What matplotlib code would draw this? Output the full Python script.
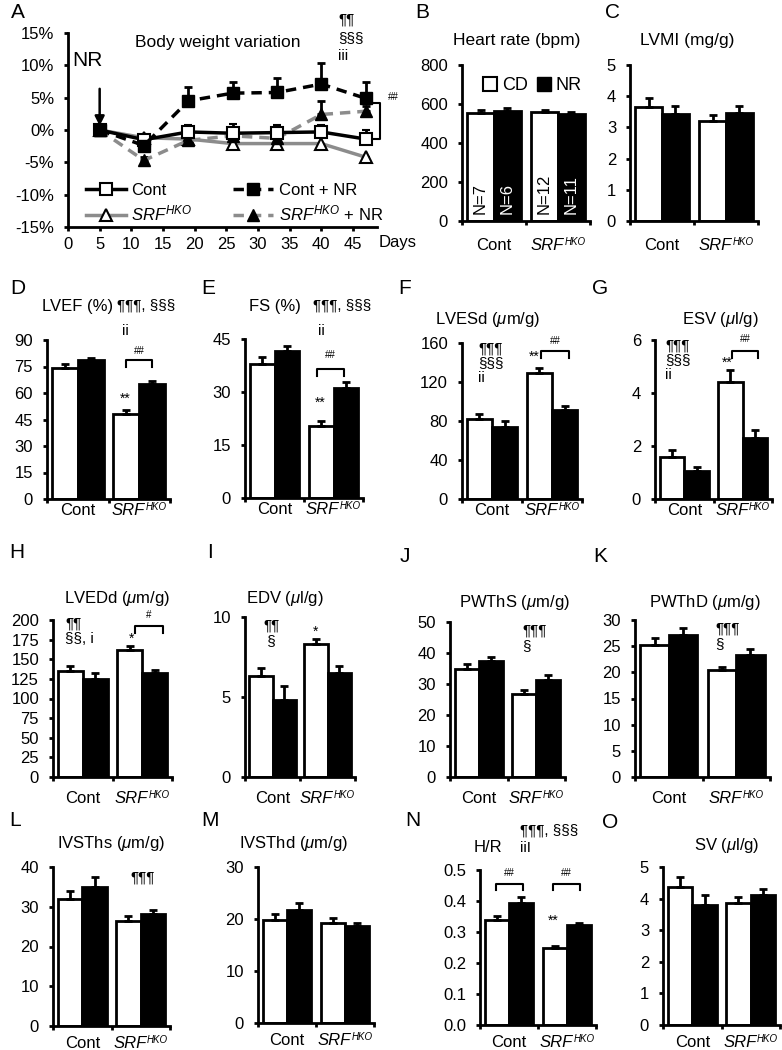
"""Echo / body weight panels for Cont vs SRF-HKO mice, CD vs NR diet"""

import numpy as np
import matplotlib
matplotlib.use('Agg')
import matplotlib.pyplot as plt
from matplotlib.lines import Line2D
from matplotlib.patches import Patch
from matplotlib.font_manager import FontProperties
from matplotlib.textpath import TextToPath

plt.rcParams['font.family'] = ['Liberation Sans', 'DejaVu Sans']
plt.rcParams['mathtext.fontset'] = 'custom'
plt.rcParams['mathtext.rm'] = 'Liberation Sans'
plt.rcParams['mathtext.it'] = 'Liberation Sans:italic'
plt.rcParams['axes.unicode_minus'] = False

W, H = 782, 1050
GREY = '#8c8c8c'

# body weight variation (%), panel A
days = [5, 12, 19, 26, 33, 40, 47]
bw_cont = [0, -1.5, -0.3, -0.5, -0.4, -0.3, -1.4]
bw_cont_err = [0.3, 0.5, 1.1, 1.5, 1.1, 1.0, 1.4]
bw_srf = [0, -1.2, -1.4, -2.1, -2.1, -2.1, -4.2]
bw_srf_err = [0.3, 0.5, 0.6, 0.6, 0.6, 0.6, 0.8]
bw_cont_nr = [0, -2.4, 4.5, 5.7, 5.8, 7.1, 4.9]
bw_cont_nr_err = [0.3, 0.8, 2.1, 1.7, 2.2, 3.3, 2.5]
bw_srf_nr = [0, -4.7, -1.6, -0.9, -1.3, 2.4, 2.9]
bw_srf_nr_err = [0.3, 0.6, 0.6, 0.8, 0.6, 2.1, 0.8]

# bar values: [Cont CD, Cont NR, SRF CD, SRF NR]
hr = [555, 565, 560, 548]
hr_err = [12, 15, 8, 12]
hr_n = ['N=7', 'N=6', 'N=12', 'N=11']
lvmi = [3.65, 3.42, 3.22, 3.47]
lvmi_err = [0.28, 0.28, 0.18, 0.2]
lvef = [74, 78.5, 48, 65]
lvef_err = [2.5, 1.5, 2.5, 2]
fs = [38, 41.5, 20.5, 31]
fs_err = [2, 1.5, 1.2, 1.7]
lvesd = [82, 74, 129, 91]
lvesd_err = [5, 6, 5, 4]
esv = [1.6, 1.05, 4.4, 2.3]
esv_err = [0.25, 0.15, 0.45, 0.3]
lvedd = [135, 125, 162, 132]
lvedd_err = [6, 8, 5, 4]
edv = [6.3, 4.8, 8.3, 6.5]
edv_err = [0.5, 0.9, 0.35, 0.45]
pwths = [35, 37.3, 26.7, 31.2]
pwths_err = [1.3, 1.5, 1.3, 1.7]
pwthd = [25.3, 27.2, 20.4, 23.3]
pwthd_err = [1.3, 1.2, 0.6, 1.2]
ivsths = [32, 35, 26.5, 28.3]
ivsths_err = [2, 2.5, 1.2, 0.8]
ivsthd = [19.8, 21.8, 19.2, 18.7]
ivsthd_err = [1.2, 1.2, 1.0, 0.6]
hrr = [0.34, 0.395, 0.25, 0.322]
hrr_err = [0.012, 0.018, 0.006, 0.008]
sv = [4.38, 3.8, 3.85, 4.1]
sv_err = [0.3, 0.32, 0.2, 0.2]

fig = plt.figure(figsize=(W / 100, H / 100), dpi=100)
ttp = TextToPath()
LABEL_FS, SUP_FS = 12, 7


def text_width(s, size, style='normal'):
  fp = FontProperties(family='Liberation Sans', style=style, size=size)
  w, _, _ = ttp.get_text_width_height_descent(s, fp, ismath=False)
  return w


def px_axes(x0, y0, x1, y1):
  # y0 = pixel row of the top of the axis, y1 = pixel row of the bottom
  return fig.add_axes([x0 / W, 1 - y1 / H, (x1 - x0) / W, (y1 - y0) / H])


def ftext(x, y, s, **kw):
  kw.setdefault('fontsize', 12)
  return fig.text(x / W, 1 - y / H, s, **kw)


def style_axes(ax):
  for side in ['top', 'right']:
    ax.spines[side].set_visible(False)
  for side in ['left', 'bottom']:
    ax.spines[side].set_linewidth(2)
  ax.tick_params(which='major', direction='out', width=2, length=3, labelsize=12, pad=7)


def group_labels(ax, centers, off_px):
  off = off_px / 1.389
  ax.annotate('Cont', xy=(centers[0], 0), xytext=(0, -off), textcoords='offset points',
              ha='center', va='baseline', fontsize=LABEL_FS, annotation_clip=False)
  w1 = text_width('SRF', LABEL_FS, 'italic')
  w2 = text_width('HKO', SUP_FS, 'italic')
  start = -(w1 + w2 + 0.4) / 2
  ax.annotate('SRF', xy=(centers[1], 0), xytext=(start, -off), textcoords='offset points',
              ha='left', va='baseline', fontsize=LABEL_FS, style='italic', annotation_clip=False)
  ax.annotate('HKO', xy=(centers[1], 0), xytext=(start + w1 + 0.4, -off + 0.716 * (LABEL_FS - SUP_FS)),
              textcoords='offset points', ha='left', va='baseline', fontsize=SUP_FS,
              style='italic', annotation_clip=False)


def bar_panel(box, vals, errs, ymax, step, label_off, fmt='{:g}'):
  ax = px_axes(*box)
  style_axes(ax)
  centers = np.array([0.5, 1.5])
  cd = [vals[0], vals[2]]
  nr = [vals[1], vals[3]]
  ekw = dict(ecolor='black', elinewidth=2, capsize=3, capthick=2)
  ax.bar(centers - 0.21, cd, 0.42, color='white', edgecolor='black', linewidth=2,
         yerr=[[0, 0], [errs[0], errs[2]]], error_kw=ekw, zorder=2)
  ax.bar(centers + 0.21, nr, 0.42, color='black', edgecolor='black', linewidth=2,
         yerr=[[0, 0], [errs[1], errs[3]]], error_kw=ekw, zorder=2)
  ax.set_xlim(0, 2)
  ax.set_ylim(0, ymax)
  ticks = np.arange(0, ymax + step / 2, step)
  ax.set_yticks(ticks)
  ax.set_yticklabels([fmt.format(t) for t in ticks])
  ax.set_xticks([0, 1, 2])
  ax.set_xticklabels([])
  group_labels(ax, centers, label_off)
  return ax


def bracket(ax, x1, x2, y, drop, label, ly):
  ax.plot([x1, x1, x2, x2], [y - drop, y, y, y - drop], color='black', lw=1.5, clip_on=False)
  ax.text((x1 + x2) / 2, ly, label, ha='center', va='center', fontsize=7, clip_on=False)


def stack(x, y, lines, step, size=11):
  for i, s in enumerate(lines):
    ftext(x, y + i * step, s, ha='left', va='baseline', fontsize=size)


# ---- panel A: body weight variation
axA = px_axes(68, 33, 377, 227)
style_axes(axA)
ekw = dict(elinewidth=2, capsize=3, capthick=2, ecolor='black')
z = [0] * len(days)
axA.errorbar(days, bw_srf, yerr=[bw_srf_err, z], color=GREY, lw=2.5, marker='^', ms=9,
             mfc='white', mec='black', mew=1.5, zorder=3, **ekw)
axA.errorbar(days, bw_srf_nr, yerr=[z, bw_srf_nr_err], color=GREY, lw=2.5, ls=(0, (3, 2)),
             marker='^', ms=9, mfc='black', mec='black', zorder=3, **ekw)
axA.errorbar(days, bw_cont, yerr=[z, bw_cont_err], color='black', lw=2.5, marker='s', ms=8,
             mfc='white', mec='black', mew=1.5, zorder=4, **ekw)
axA.errorbar(days, bw_cont_nr, yerr=[z, bw_cont_nr_err], color='black', lw=2.5, ls=(0, (3, 2)),
             marker='s', ms=8, mfc='black', mec='black', zorder=4, **ekw)
axA.set_xlim(0, 48.8)
axA.set_ylim(-15, 15)
axA.set_xticks(range(0, 46, 5))
yt = range(-15, 16, 5)
axA.set_yticks(list(yt))
axA.set_yticklabels([f'{v}%' for v in yt])
axA.tick_params(axis='x', pad=4)
ftext(379, 243, 'Days', ha='left', va='center')
axA.text(23.7, 13.6, 'Body weight variation', ha='center', va='center', fontsize=12.5)
axA.text(3.0, 10.8, 'NR', ha='center', va='center', fontsize=15)
axA.annotate('', xy=(5, 0.2), xytext=(5, 6.8),
             arrowprops=dict(arrowstyle='-|>', color='black', lw=1.8, mutation_scale=14))
axA.plot([48.2, 49.3, 49.3, 48.2], [4.2, 4.2, -1.4, -1.4], color='black', lw=1.5, clip_on=False)
ftext(388, 97, '##', ha='left', va='center', fontsize=7)
stack(338, 24, ['¶¶', '§§§', 'iii'], 18)
legA = [
  Line2D([], [], color='black', lw=2.5, marker='s', ms=8, mfc='white', mec='black', mew=1.5),
  Line2D([], [], color=GREY, lw=2.5, marker='^', ms=9, mfc='white', mec='black', mew=1.5),
  Line2D([], [], color='black', lw=2.5, ls=(0, (3, 2)), marker='s', ms=8, mfc='black'),
  Line2D([], [], color=GREY, lw=2.5, ls=(0, (3, 2)), marker='^', ms=9, mfc='black', mec='black'),
]
axA.legend(legA, ['Cont', r'$SRF^{HKO}$', 'Cont + NR', r'$SRF^{HKO}$ + NR'], ncol=2,
           loc='lower left', bbox_to_anchor=(0.03, -0.025), frameon=False, fontsize=12,
           borderpad=0, handlelength=2.4, handletextpad=0.35, columnspacing=2.4,
           labelspacing=0.35)

# ---- panel B: heart rate
axB = bar_panel((462, 65, 590, 221), hr, hr_err, 800, 200, 29)
for xc, n, col in zip([0.29, 0.71, 1.29, 1.71], hr_n, ['black', 'white', 'black', 'white']):
  axB.text(xc, 35, n, rotation=90, ha='center', va='bottom', color=col, fontsize=12)
axB.legend([Patch(facecolor='white', edgecolor='black', lw=1.5),
            Patch(facecolor='black', edgecolor='black')], ['CD', 'NR'], ncol=2,
           loc='upper center', bbox_to_anchor=(0.55, 0.98), frameon=False, fontsize=13,
           handlelength=0.8, handleheight=0.8, handletextpad=0.25, columnspacing=0.5,
           borderpad=0)
ftext(517, 45, 'Heart rate (bpm)', ha='center', va='baseline', fontsize=12.5)

# ---- panel C: LVMI
bar_panel((630, 65, 758, 221), lvmi, lvmi_err, 5, 1, 29)
ftext(687, 45, 'LVMI (mg/g)', ha='center', va='baseline', fontsize=12.5)

# ---- row D-G
axD = bar_panel((47, 340, 170, 499), lvef, lvef_err, 90, 15, 16)
ftext(78, 311, 'LVEF (%)', ha='center', va='baseline')
stack(117, 310, ['¶¶¶, §§§'], 0)
stack(122, 335, ['ii'], 0)
axD.text(1.27, 57, '**', ha='center', va='center', fontsize=10)
bracket(axD, 1.29, 1.71, 78.5, 4, '##', 84)

axE = bar_panel((245, 339, 363, 498), fs, fs_err, 45, 15, 16)
ftext(275, 311, 'FS (%)', ha='center', va='baseline')
stack(313, 310, ['¶¶¶, §§§'], 0)
stack(318, 335, ['ii'], 0)
axE.text(1.27, 27, '**', ha='center', va='center', fontsize=10)
bracket(axE, 1.22, 1.68, 36.5, 2, '##', 40.5)

axF = bar_panel((462, 343, 582, 499), lvesd, lvesd_err, 160, 40, 16)
ftext(488, 324, r'LVESd ($\mu$m/g)', ha='center', va='baseline')
stack(478, 353, ['¶¶¶', '§§§', 'ii'], 14.5)
axF.text(1.2, 146, '**', ha='center', va='center', fontsize=10)
bracket(axF, 1.32, 1.78, 152, 7, '##', 162)

axG = bar_panel((655, 340, 772, 499), esv, esv_err, 6, 2, 16)
ftext(720, 324, r'ESV ($\mu$l/g)', ha='center', va='baseline')
stack(665, 350, ['¶¶¶', '§§§', 'ii'], 14.5)
axG.text(1.23, 5.15, '**', ha='center', va='center', fontsize=10)
bracket(axG, 1.32, 1.76, 5.6, 0.27, '##', 6.05)

# ---- row H-K
axH = bar_panel((53, 620, 172, 777), lvedd, lvedd_err, 200, 25, 26)
ftext(117, 603, r'LVEDd ($\mu$m/g)', ha='center', va='baseline')
stack(65, 628, ['¶¶', '§§, i'], 15)
axH.text(1.32, 176, '*', ha='center', va='center', fontsize=10)
bracket(axH, 1.38, 1.85, 192, 8, '#', 206)

axI = bar_panel((245, 617, 355, 777), edv, edv_err, 10, 5, 26)
ftext(285, 603, r'EDV ($\mu$l/g)', ha='center', va='baseline')
stack(263, 630, ['¶¶', ' §'], 15)
axI.text(1.28, 9.1, '*', ha='center', va='center', fontsize=10)

bar_panel((450, 622, 565, 777), pwths, pwths_err, 50, 10, 26)
ftext(514, 607, r'PWThS ($\mu$m/g)', ha='center', va='baseline')
stack(522, 635, ['¶¶¶', '§'], 15)

bar_panel((635, 620, 770, 777), pwthd, pwthd_err, 30, 5, 26)
ftext(705, 607, r'PWThD ($\mu$m/g)', ha='center', va='baseline')
stack(715, 633, ['¶¶¶', '§'], 15)

# ---- row L-O
bar_panel((53, 867, 170, 1026), ivsths, ivsths_err, 40, 10, 22)
ftext(111, 848, r'IVSThs ($\mu$m/g)', ha='center', va='baseline')
stack(130, 882, ['¶¶¶'], 0)

bar_panel((258, 867, 374, 1023), ivsthd, ivsthd_err, 30, 10, 22)
ftext(293, 848, r'IVSThd ($\mu$m/g)', ha='center', va='baseline')

axN = bar_panel((480, 870, 596, 1025), hrr, hrr_err, 0.5, 0.1, 22, fmt='{:.1f}')
ftext(488, 852, 'H/R', ha='center', va='baseline')
stack(520, 835, ['¶¶¶, §§§', 'iiI'], 17)
axN.text(1.26, 0.335, '**', ha='center', va='center', fontsize=10)
bracket(axN, 0.28, 0.74, 0.455, 0.02, '##', 0.49)
bracket(axN, 1.26, 1.72, 0.455, 0.02, '##', 0.49)

bar_panel((663, 867, 780, 1025), sv, sv_err, 5, 1, 22)
ftext(727, 850, r'SV ($\mu$l/g)', ha='center', va='baseline')

# panel letters
letters = {'A': (18, 12), 'B': (422, 12), 'C': (613, 12),
           'D': (18, 288), 'E': (208, 288), 'F': (405, 288), 'G': (600, 288),
           'H': (17, 552), 'I': (210, 552), 'J': (405, 556), 'K': (600, 556),
           'L': (15, 821), 'M': (210, 821), 'N': (413, 821), 'O': (610, 823)}
for k, (x, y) in letters.items():
  ftext(x, y, k, ha='center', va='center', fontsize=15)

fig.savefig('out.png', dpi=100)
